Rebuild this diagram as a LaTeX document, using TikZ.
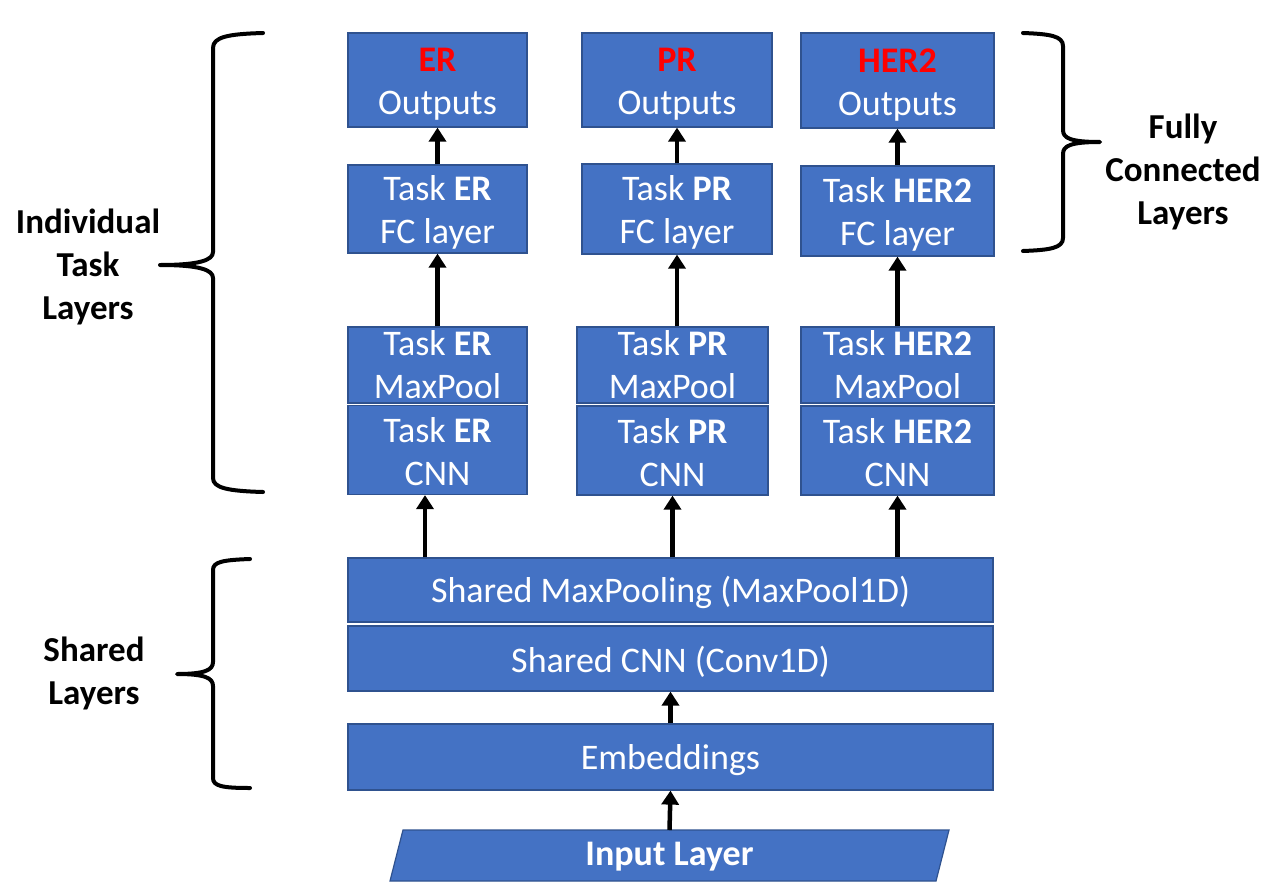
\documentclass[tikz,border=0pt]{standalone}
\usepackage{fontspec}
\setmainfont{Carlito}
\usetikzlibrary{arrows.meta}
\definecolor{boxblue}{HTML}{4472C4}
\definecolor{boxedge}{HTML}{2F528F}
\definecolor{redtxt}{HTML}{FF0000}
\newcommand{\mystrut}{\rule{0pt}{32pt}}
\newcommand{\mylowstrut}{\rule{0pt}{29pt}}
\begin{document}
\begin{tikzpicture}[x=1pt,y=-1pt,
  blk/.style={draw=boxedge, line width=1.2pt, fill=boxblue, text=white, align=center, inner sep=0pt, font=\fontsize{36}{43}\selectfont},
  arr/.style={line width=4.5pt, -{Triangle[width=17pt,length=14pt]}},
  brace/.style={line width=4pt, line join=round, line cap=round},
  lbl/.style={align=center, font=\fontsize{35}{43}\selectfont\bfseries}
]
\useasboundingbox (0,0) rectangle (1279,886);
\fill[white] (0,0) rectangle (1279,886);

% Outputs
\node[blk, minimum width=179pt, minimum height=94pt] (out1) at (437.5,80) {\mystrut\textcolor{redtxt}{\bfseries ER}\\Outputs};
\node[blk, minimum width=190pt, minimum height=94pt] (out2) at (677,80) {\mystrut\textcolor{redtxt}{\bfseries PR}\\Outputs};
\node[blk, minimum width=193pt, minimum height=95pt] (out3) at (897.5,80.5) {\mystrut\textcolor{redtxt}{\bfseries HER2}\\Outputs};

% FC layers
\node[blk, minimum width=179pt, minimum height=88pt] (fc1) at (437.5,209) {\mystrut Task \textbf{ER}\\FC layer};
\node[blk, minimum width=190pt, minimum height=90pt] (fc2) at (677,209) {\mystrut Task \textbf{PR}\\FC layer};
\node[blk, minimum width=193pt, minimum height=90pt] (fc3) at (897.5,211) {\mystrut Task \textbf{HER2}\\FC layer};

% MaxPool
\node[blk, minimum width=179pt, minimum height=76pt] (mp1) at (437.5,365) {Task \textbf{ER}\\MaxPool};
\node[blk, minimum width=191pt, minimum height=76pt] (mp2) at (672.5,365) {Task \textbf{PR}\\MaxPool};
\node[blk, minimum width=193pt, minimum height=76pt] (mp3) at (897.5,365) {Task \textbf{HER2}\\MaxPool};

% CNN
\node[blk, minimum width=179pt, minimum height=89pt] (cnn1) at (437.5,450) {\mylowstrut Task \textbf{ER}\\CNN};
\node[blk, minimum width=191pt, minimum height=89pt] (cnn2) at (672.5,450.5) {\mylowstrut Task \textbf{PR}\\CNN};
\node[blk, minimum width=193pt, minimum height=89pt] (cnn3) at (897.5,450.5) {\mylowstrut Task \textbf{HER2}\\CNN};

% Shared
\node[blk, minimum width=645pt, minimum height=64pt] (smp) at (670.5,590) {\mystrut Shared MaxPooling (MaxPool1D)};
\node[blk, minimum width=645pt, minimum height=65pt] (scnn) at (670.5,658.5) {\mystrut Shared CNN (Conv1D)};
\node[blk, minimum width=645pt, minimum height=66pt] (emb) at (670.5,757) {\mystrut Embeddings};

% Input layer (parallelogram)
\filldraw[fill=boxblue, draw=boxedge, line width=1.2pt] (403,830) -- (949,830) -- (936,881) -- (390,881) -- cycle;
\node[text=white, inner sep=0pt, minimum width=520pt, minimum height=51pt, font=\fontsize{36}{43}\selectfont\bfseries] (inp) at (669.5,857) {Input Layer};

% Arrows
\draw[arr] (fc1.north) -- (out1.south);
\draw[arr] (fc2.north) -- (out2.south);
\draw[arr] (fc3.north) -- (out3.south);
\draw[arr] (mp1.north) -- (fc1.south);
\draw[arr] (mp2.north -| fc2.south) -- (fc2.south);
\draw[arr] (mp3.north) -- (fc3.south);
\draw[arr] ([xshift=-12.5pt]cnn1.south |- smp.north) -- ([xshift=-12.5pt]cnn1.south);
\draw[arr] (cnn2.south |- smp.north) -- (cnn2.south);
\draw[arr] (cnn3.south |- smp.north) -- (cnn3.south);
\draw[arr] (emb.north) -- (scnn.south);
\draw[arr] (inp.north |- 0,830) -- (emb.south);

% Braces
\draw[brace] (263,33) .. controls (228,34) and (213,37) .. (213,48) -- (213,252)
  .. controls (213,260) and (200,265) .. (160,265)
  .. controls (200,265) and (213,270) .. (213,278) -- (213,478)
  .. controls (213,488) and (228,491) .. (263,492);
\draw[brace] (250,559) .. controls (222,560) and (213,562) .. (213,570) -- (213,662)
  .. controls (213,670) and (205,674) .. (177,674)
  .. controls (205,674) and (213,678) .. (213,686) -- (213,778)
  .. controls (213,786) and (222,788) .. (250,788);
\draw[brace] (1023,33) .. controls (1050,34) and (1063,36) .. (1063,46) -- (1063,130)
  .. controls (1063,138) and (1070,142) .. (1100,142)
  .. controls (1070,142) and (1063,146) .. (1063,154) -- (1063,238)
  .. controls (1063,248) and (1050,250) .. (1023,251);

% Labels
\node[lbl] (lind) at (88,267) {Individual\\Task\\Layers};
\node[lbl] (lsh) at (94,673) {Shared\\Layers};
\node[lbl] (lfc) at (1183,172) {Fully\\Connected\\Layers};
\end{tikzpicture}
\end{document}
